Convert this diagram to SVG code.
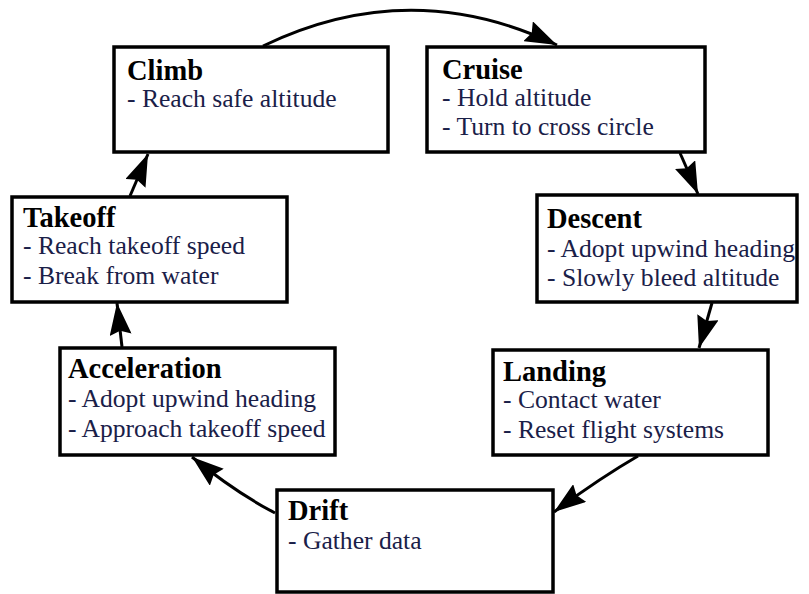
<svg xmlns="http://www.w3.org/2000/svg" width="809" height="594" viewBox="0 0 809 594">
<style>
.box{fill:#fff;stroke:#000;stroke-width:3.5}
text{font-family:'Liberation Serif','DejaVu Serif','Times New Roman',serif}
.t{font-weight:bold;font-size:28.5px;fill:#000}
.s{font-size:25.6px;fill:#1a2048}
.c{fill:none;stroke:#000;stroke-width:3}
</style>
<defs>
<marker id="ah" viewBox="0 0 32 22" refX="32" refY="11" markerWidth="32" markerHeight="22" markerUnits="userSpaceOnUse" orient="auto">
<path d="M0,0 L32,11 L0,22 L4,11 Z" fill="#000"/>
</marker>
</defs>
<rect width="809" height="594" fill="#fff"/>
<g id="connectors">
<path class="c" d="M263,46 Q410,-25 557,45" marker-end="url(#ah)"/>
<path class="c" d="M680,153 L698,194" marker-end="url(#ah)"/>
<path class="c" d="M712,303 L699,348" marker-end="url(#ah)"/>
<path class="c" d="M638,456 Q600,478 554,512" marker-end="url(#ah)"/>
<path class="c" d="M275,513 Q235,492 192,457" marker-end="url(#ah)"/>
<path class="c" d="M122,347 L117,303" marker-end="url(#ah)"/>
<path class="c" d="M130,196 L148,154" marker-end="url(#ah)"/>
</g>
<g id="climb">
<rect class="box" x="114" y="47" width="274" height="105"/>
<text class="t" x="127" y="80">Climb</text>
<text class="s" x="127" y="107">- Reach safe altitude</text>
</g>
<g id="cruise">
<rect class="box" x="427" y="47" width="278" height="105"/>
<text class="t" x="442" y="79">Cruise</text>
<text class="s" x="442" y="106">- Hold altitude</text>
<text class="s" x="442" y="135">- Turn to cross circle</text>
</g>
<g id="descent">
<rect class="box" x="537" y="195" width="260" height="107"/>
<text class="t" x="547" y="228">Descent</text>
<text class="s" x="547" y="257">- Adopt upwind heading</text>
<text class="s" x="547" y="286">- Slowly bleed altitude</text>
</g>
<g id="landing">
<rect class="box" x="493" y="350" width="275" height="105"/>
<text class="t" x="503" y="381">Landing</text>
<text class="s" x="503" y="408">- Contact water</text>
<text class="s" x="503" y="438">- Reset flight systems</text>
</g>
<g id="drift">
<rect class="box" x="277" y="490" width="276" height="102"/>
<text class="t" x="288" y="520">Drift</text>
<text class="s" x="288" y="549">- Gather data</text>
</g>
<g id="acceleration">
<rect class="box" x="60" y="348" width="275" height="107"/>
<text class="t" x="68" y="378">Acceleration</text>
<text class="s" x="68" y="407">- Adopt upwind heading</text>
<text class="s" x="68" y="437">- Approach takeoff speed</text>
</g>
<g id="takeoff">
<rect class="box" x="12" y="197" width="275" height="105"/>
<text class="t" x="23" y="227">Takeoff</text>
<text class="s" x="23" y="254">- Reach takeoff speed</text>
<text class="s" x="23" y="284">- Break from water</text>
</g>
</svg>
